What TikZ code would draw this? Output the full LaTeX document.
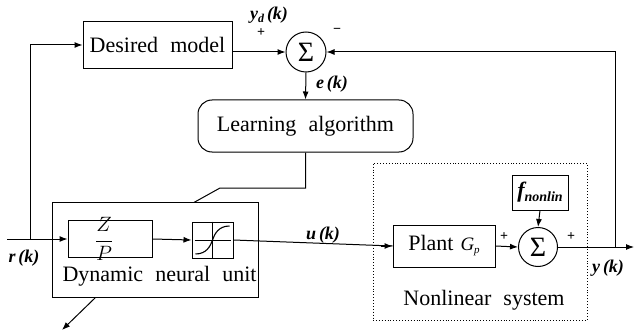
\documentclass[tikz,border=0pt]{standalone}
\usepackage{fontspec}
\setmainfont{Liberation Serif}
\usetikzlibrary{arrows.meta,calc,backgrounds}
\newcommand{\wsp}{\hspace{0.55em}}
\begin{document}
\begin{tikzpicture}[x=1pt,y=-1pt,
  line width=1pt,
  >={Latex[length=8pt,width=6pt]},
  blk/.style={draw,fill=white,inner sep=0pt,font=\fontsize{22}{24}\selectfont},
  sumnode/.style={draw,fill=white,circle,minimum size=40pt,inner sep=0pt,font=\fontsize{28}{28}\selectfont},
  lbl/.style={inner sep=0pt,font=\fontsize{18}{18}\selectfont\bfseries\itshape},
  sgn/.style={inner sep=0pt,font=\fontsize{14}{14}\selectfont\bfseries},
  txt/.style={inner sep=0pt,font=\fontsize{22}{24}\selectfont}]
\useasboundingbox (0,0) rectangle (636,334);

% upper row: reference model and error summation
\node[blk,minimum width=149pt,minimum height=47pt] (desired) at (157.5,45) {Desired\wsp model};
\node[sumnode] (sum1) at (306,52) {Σ};
\node[blk,rounded corners=14pt,minimum width=215pt,minimum height=52pt] (learn) at (305.5,126) {Learning\wsp algorithm};

% nonlinear system frame
\node[draw,dotted,line width=0.9pt,minimum width=214pt,minimum height=157pt,inner sep=0pt] (nls) at (480,241.5) {};
\node[txt] (nlstext) at (484,300) {Nonlinear\wsp system};

% dynamic neural unit
\node[blk,minimum width=206pt,minimum height=95pt] (dnu) at (155,249.5) {};
\node[txt,anchor=west] (dnutext) at (62,276) {Dynamic\wsp neural\wsp unit};
\node[blk,minimum width=84pt,minimum height=37pt] (zp) at (110,239) {};
\node[inner sep=0pt,font=\fontsize{21}{21}\selectfont] (frac) at (104,239) {$\displaystyle\frac{Z}{P}$};
\node[blk,minimum width=41pt,minimum height=36pt] (sig) at (212.5,240) {};
\draw[line width=0.9pt] ($(sig.west)+(3,0)$) -- ($(sig.east)+(-3,0)$);
\draw[line width=0.9pt] (sig.north) -- (sig.south);
\draw[line width=1.1pt] ($(sig.center)+(-17,14)$) .. controls ($(sig.center)+(-6,14)$) and ($(sig.center)+(-2,6)$) .. (sig.center)
  .. controls ($(sig.center)+(2,-6)$) and ($(sig.center)+(6,-14)$) .. ($(sig.center)+(17,-14)$);

% plant and disturbance
\node[blk,minimum width=102pt,minimum height=42pt] (plant) at (444,246) {Plant\hspace{7pt}{\fontsize{19}{19}\selectfont\itshape G}{\fontsize{11}{11}\selectfont\itshape\raisebox{-3pt}{p}}};
\node[sumnode,minimum size=39pt] (sum2) at (538,247) {Σ};
\node[blk,minimum width=56pt,minimum height=35pt] (fnl) at (540,192.5) {{\fontsize{22}{22}\selectfont\bfseries\itshape f}{\fontsize{14}{14}\selectfont\bfseries\itshape\raisebox{-4pt}{nonlin}}};

% free ends of signals
\coordinate (rin) at (7,239);
\coordinate (rtap) at (30,239);
\coordinate (yout) at (634,247);
\coordinate (ytap) at (615,247);
\coordinate (adjA) at (220,188);
\coordinate (adjB) at (193,203);
\coordinate (adjEnd) at (62,330);

% adaptation path crossing behind the neural unit
\begin{scope}[on background layer]
\draw[line width=1pt,->] (learn.south) |- (adjA) -- (adjB) -- (adjEnd);
\end{scope}

% signal connectors
\draw[->] (rin) -- (zp.west);
\draw[->] (rtap) |- (desired.west);
\draw[->] (desired.east |- sum1.west) -- (sum1.west);
\draw[->] (sum1.south) -- (learn.north);
\draw[->] (zp.east) -- (sig.west);
\draw (sig.east) -- (plant.west);
\draw[->] ($(plant.west)+(-12,0)$) -- (plant.west);
\draw[->] (plant.east) -- (sum2.west);
\draw[->] (fnl.south) -- (sum2.north);
\draw[->] (sum2.east) -- (yout);
\draw[->] (ytap) |- (sum1.east);

% signal labels
\node[lbl] (yd) at (269,15) {y\raisebox{-3pt}{\fontsize{12}{12}\selectfont d}\,(k)};
\node[sgn] (p1) at (261,33) {+};
\node[sgn] (m1) at (337,31) {−};
\node[lbl] (ek) at (332,84) {e\,(k)};
\node[lbl] (rk) at (24,258) {r\,(k)};
\node[lbl] (uk) at (323,235) {u\,(k)};
\node[sgn] (p2) at (504,237) {+};
\node[sgn] (p3) at (571,237) {+};
\node[lbl] (yk) at (608,268) {y\,(k)};
\end{tikzpicture}
\end{document}
